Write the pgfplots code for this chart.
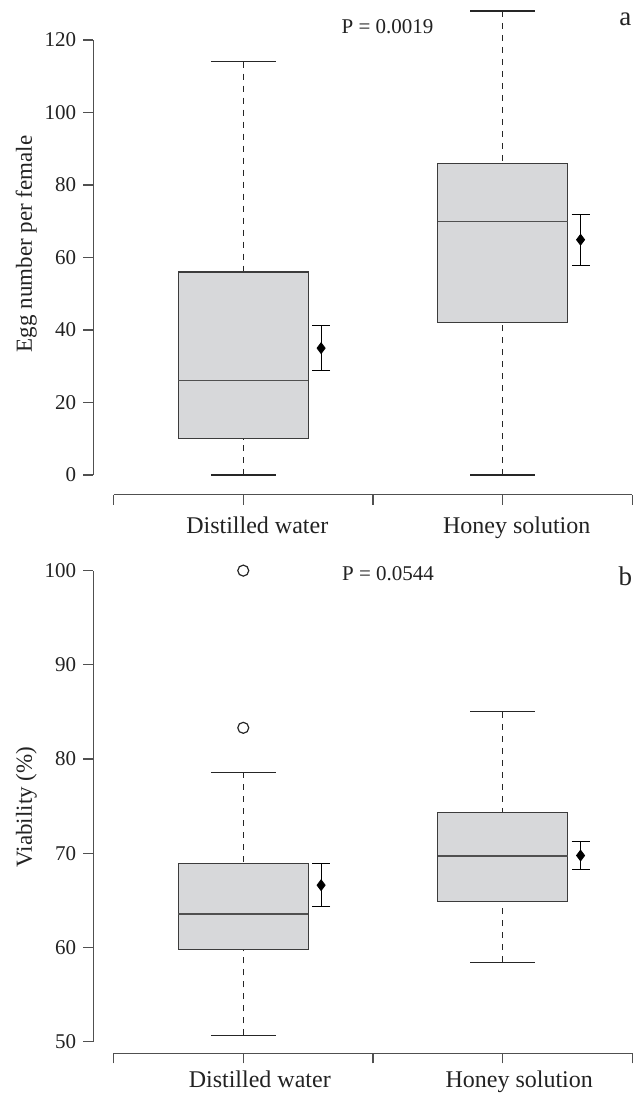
\documentclass[border=0pt]{standalone}
\usepackage{fontspec}
\setmainfont{Liberation Serif}
\usepackage{pgfplots}
\pgfplotsset{compat=1.18}
\usepgfplotslibrary{statistics}
\definecolor{boxfill}{HTML}{D7D8DA}
\definecolor{boxline}{HTML}{3C3C3C}
\definecolor{axline}{HTML}{505050}
\definecolor{txt}{HTML}{222222}

\pgfplotsset{
  panel/.style={
    scale only axis, width=279.7pt,
    xmin=0.422, xmax=2.578,
    axis x line=bottom, axis y line=left,
    axis line style={draw=none, -},
    tick align=outside, major tick length=5pt,
    every tick/.style={axline, line width=0.6pt},
    xtick={0.5,1,1.5,2,2.5},
    xticklabels={,Distilled water,,Honey solution,},
    yticklabel style={font=\fontsize{10.5}{12}\selectfont, text=txt},
    xticklabel style={font=\fontsize{12}{14}\selectfont, text=txt, anchor=base},
    /pgf/number format/assume math mode=true,
    clip=false,
    ylabel style={font=\fontsize{11.5}{13}\selectfont, text=txt, anchor=base},
    boxplot/draw direction=y,
    boxplot/box extend=0.5,
    boxplot/whisker extend=0.25,
    boxplot/every box/.style={draw=boxline, fill=boxfill, line width=0.6pt},
    boxplot/every median/.style={draw=axline, line width=0.6pt},
    boxplot/every whisker/.style={draw=black!85, line width=0.6pt},
    boxplot/draw/lower whisker/.code={%
      \draw[/pgfplots/boxplot/every whisker/.try, dash pattern=on 3pt off 3pt]
        (boxplot box cs:\pgfplotsboxplotvalue{lower whisker},0.5) --
        (boxplot box cs:\pgfplotsboxplotvalue{lower quartile},0.5);
      \draw[/pgfplots/boxplot/every whisker/.try]
        (boxplot whisker cs:\pgfplotsboxplotvalue{lower whisker},0) --
        (boxplot whisker cs:\pgfplotsboxplotvalue{lower whisker},1);
    },
    boxplot/draw/upper whisker/.code={%
      \draw[/pgfplots/boxplot/every whisker/.try, dash pattern=on 3pt off 3pt]
        (boxplot box cs:\pgfplotsboxplotvalue{upper whisker},0.5) --
        (boxplot box cs:\pgfplotsboxplotvalue{upper quartile},0.5);
      \draw[/pgfplots/boxplot/every whisker/.try]
        (boxplot whisker cs:\pgfplotsboxplotvalue{upper whisker},0) --
        (boxplot whisker cs:\pgfplotsboxplotvalue{upper whisker},1);
    },
  },
  mse/.style={only marks, mark=diamond*, mark size=2.7pt, black,
    error bars/.cd, y dir=both, y explicit, error mark=|,
    error bar style={line width=0.6pt, black},
    error mark options={mark size=4.5pt, line width=0.6pt, black}},
}

\begin{document}
\begin{tikzpicture}
% ---------------- panel a ----------------
\begin{axis}[panel,
  at={(46.65pt,301.7pt)}, anchor=south west,
  height=247.3pt,
  ymin=-5.4, ymax=131.03,
  ytick={0,20,40,60,80,100,120},
  ylabel={Egg number per female},
  ylabel style={at={(axis description cs:-0.110,0.507)}},
  xticklabel style={xshift=7pt, yshift=-14.5pt},
]
\draw[axline, line width=0.6pt] (axis cs:0.5,-5.4) -- (axis cs:2.5,-5.4);
\draw[axline, line width=0.6pt] (axis cs:0.422,0) -- (axis cs:0.422,120);
\addplot[boxplot prepared={draw position=1, lower whisker=0, lower quartile=10,
  median=26, upper quartile=56, upper whisker=114}] coordinates {};
\addplot[boxplot prepared={draw position=2, lower whisker=0, lower quartile=42,
  median=70, upper quartile=86, upper whisker=128}] coordinates {};
\addplot[mse] coordinates {(1.3,35) +- (0,6.15) (2.3,64.9) +- (0,7.0)};
\node[anchor=base, font=\fontsize{10.5}{12}\selectfont, text=txt] at (axis cs:1.556,121.85) {P = 0.0019};
\node[anchor=base, font=\fontsize{13.5}{15}\selectfont, text=txt] at (axis cs:2.473,123.9) {a};
\end{axis}
% ---------------- panel b ----------------
\begin{axis}[panel,
  at={(46.65pt,22.3pt)}, anchor=south west,
  height=250.8pt,
  ymin=48.74, ymax=102,
  ytick={50,60,70,80,90,100},
  ylabel={Viability (\%)},
  ylabel style={at={(axis description cs:-0.110,0.491)}},
  xticklabel style={xshift=8.25pt, yshift=-11.85pt},
]
\draw[axline, line width=0.6pt] (axis cs:0.5,48.74) -- (axis cs:2.5,48.74);
\draw[axline, line width=0.6pt] (axis cs:0.422,50) -- (axis cs:0.422,100);
\addplot[boxplot prepared={draw position=1, lower whisker=50.65, lower quartile=59.81,
  median=63.54, upper quartile=68.92, upper whisker=78.58},
  mark=o, mark size=2.75pt, mark options={draw=black!85, line width=0.6pt, solid}]
  coordinates {(0,100) (0,83.31)};
\addplot[boxplot prepared={draw position=2, lower whisker=58.42, lower quartile=64.88,
  median=69.69, upper quartile=74.31, upper whisker=85.0}] coordinates {};
\addplot[mse] coordinates {(1.3,66.6) +- (0,2.3) (2.3,69.75) +- (0,1.5)};
\node[anchor=base, font=\fontsize{10.5}{12}\selectfont, text=txt] at (axis cs:1.558,98.93) {P = 0.0544};
\node[anchor=base, font=\fontsize{13.5}{15}\selectfont, text=txt] at (axis cs:2.473,98.4) {b};
\end{axis}
\pgfresetboundingbox
\useasboundingbox (0,0) rectangle (320.5pt,549pt);
\end{tikzpicture}
\end{document}
